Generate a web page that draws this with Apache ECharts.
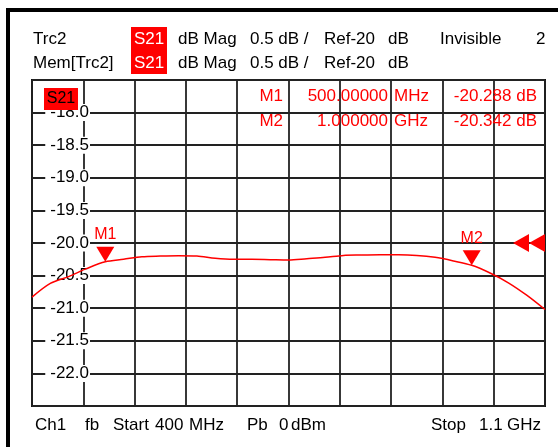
<!DOCTYPE html>
<html>
<head>
<meta charset="utf-8">
<script src="https://cdn.jsdelivr.net/npm/echarts@6/dist/echarts.min.js"></script>
<style>
html,body{margin:0;padding:0;background:#fff;}
#c{width:558px;height:447px;}
</style>
</head>
<body>
<div id="c"></div>
<script>
// ---- data ----
const freqMHz = [400,425,450,475,500,525,550,575,600,625,650,675,700,725,750,775,800,825,850,875,900,925,950,975,1000,1025,1050,1075,1100];
const s21dB   = [-20.83,-20.62,-20.515,-20.39,-20.288,-20.25,-20.21,-20.20,-20.195,-20.20,-20.235,-20.25,-20.25,-20.255,-20.26,-20.24,-20.22,-20.19,-20.185,-20.18,-20.18,-20.19,-20.22,-20.275,-20.342,-20.46,-20.61,-20.80,-21.02];
const markerNames  = ['M1','M2'];
const markerFreqMHz = [500, 1000];
const markerFreqText = ['500.00000','1.000000'];
const markerUnitText = ['MHz','GHz'];
const markerValues = [-20.288, -20.342];
const yTicks = [-22.5,-22.0,-21.5,-21.0,-20.5,-20.0,-19.5,-19.0,-18.5,-18.0,-17.5];
const refLevel = -20;
const startMHz = 400, stopMHz = 1100;

const FONT = "'Liberation Sans', Arial, sans-serif";
const RED = '#ff0000';

const chart = echarts.init(document.getElementById('c'), null, {renderer:'canvas'});

function txt(x, y, s, opts) {
  opts = opts || {};
  return {
    type: 'text', x: x, y: y, z: 30,
    style: {
      text: s, fill: opts.fill || '#000', font: (opts.size || 17) + 'px ' + FONT,
      textAlign: opts.align || 'left', textVerticalAlign: 'middle'
    }
  };
}

const graphics = [
  // outer frame
  {type:'rect', shape:{x:6,y:8,width:4,height:439}, style:{fill:'#000'}, z:30},
  {type:'rect', shape:{x:6,y:8,width:552,height:4}, style:{fill:'#000'}, z:30},
  // header
  txt(33, 39, 'Trc2'),
  txt(33, 63, 'Mem[Trc2]'),
  {type:'rect', shape:{x:131,y:27,width:36,height:23}, style:{fill:RED}, z:30},
  {type:'rect', shape:{x:131,y:50,width:36,height:24}, style:{fill:RED}, z:30},
  txt(149, 39, 'S21', {fill:'#fff', align:'center'}),
  txt(149, 63, 'S21', {fill:'#fff', align:'center'}),
  txt(178, 39, 'dB Mag'), txt(178, 63, 'dB Mag'),
  txt(250, 39, '0.5 dB /'), txt(250, 63, '0.5 dB /'),
  txt(324, 39, 'Ref-20'), txt(324, 63, 'Ref-20'),
  txt(388, 39, 'dB'), txt(388, 63, 'dB'),
  txt(440, 39, 'Invisible'),
  txt(536, 39, '2'),
  // footer
  txt(35, 425, 'Ch1'), txt(85, 425, 'fb'), txt(113, 425, 'Start'),
  txt(155, 425, '400'), txt(189, 425, 'MHz'), txt(247, 425, 'Pb'),
  txt(279, 425, '0'), txt(291, 425, 'dBm'),
  txt(431, 425, 'Stop'), txt(479, 425, '1.1'), txt(507, 425, 'GHz'),
  // trace label box
  {type:'rect', shape:{x:44,y:88,width:34,height:22}, style:{fill:RED}, z:30},
  txt(61, 99, 'S21', {size:16, align:'center'})
];
// marker table
markerNames.forEach(function (n, i) {
  const y = 96 + i * 25;
  graphics.push(txt(283, y, n, {fill:RED, align:'right'}));
  graphics.push(txt(388, y, markerFreqText[i], {fill:RED, align:'right'}));
  graphics.push(txt(394, y, markerUnitText[i], {fill:RED}));
  graphics.push(txt(537, y, markerValues[i].toFixed(3) + ' dB', {fill:RED, align:'right'}));
});

const triDown = 'path://M0,0 L18,0 L9,15 Z';
const triLeft = 'path://M0,9 L16,0 L16,18 Z';

const markData = markerNames.map(function (n, i) {
  return {
    name: n, coord: [markerFreqMHz[i], markerValues[i]],
    symbol: triDown, symbolSize: [18, 15], symbolOffset: [0, -7.5],
    label: {show: true, position: 'top', distance: 4, formatter: n, color: RED, fontSize: 16, fontFamily: FONT}
  };
});
markData.push({coord:[stopMHz, refLevel], symbol: triLeft, symbolSize:[16,18], symbolOffset:[-24,0], label:{show:false}});
markData.push({coord:[stopMHz, refLevel], symbol: triLeft, symbolSize:[16,18], symbolOffset:[-8,0], label:{show:false}});

const gridLine = {color: '#222', width: 1.8};

const option = {
  animation: false,
  backgroundColor: '#fff',
  grid: {left: 32, right: 13, top: 80, bottom: 41, show: true, borderColor: '#111', borderWidth: 2, backgroundColor: 'transparent'},
  xAxis: [
    {type: 'value', min: startMHz, max: stopMHz, show: false},
    {type: 'value', min: 0, max: 10, interval: 1, position: 'bottom',
     axisLine: {show: false}, axisTick: {show: false}, axisLabel: {show: false},
     splitLine: {show: true, lineStyle: gridLine}}
  ],
  yAxis: {
    type: 'value', min: yTicks[0], max: yTicks[yTicks.length - 1], interval: 0.5, z: 5,
    axisLine: {show: false}, axisTick: {show: false},
    splitLine: {show: true, lineStyle: gridLine},
    axisLabel: {
      inside: true, align: 'right', margin: 58, showMinLabel: false, showMaxLabel: false,
      formatter: function (v) { return v.toFixed(1); },
      color: '#000', fontSize: 17, fontFamily: FONT,
      backgroundColor: '#fff', padding: [0, 1, 0, 5]
    }
  },
  graphic: graphics,
  series: [{
    type: 'line', xAxisIndex: 0, z: 10,
    data: freqMHz.map(function (f, i) { return [f, s21dB[i]]; }),
    showSymbol: false, smooth: 0.3,
    lineStyle: {color: RED, width: 1.5},
    markPoint: {itemStyle: {color: RED}, data: markData}
  }]
};
chart.setOption(option);
</script>
</body>
</html>
